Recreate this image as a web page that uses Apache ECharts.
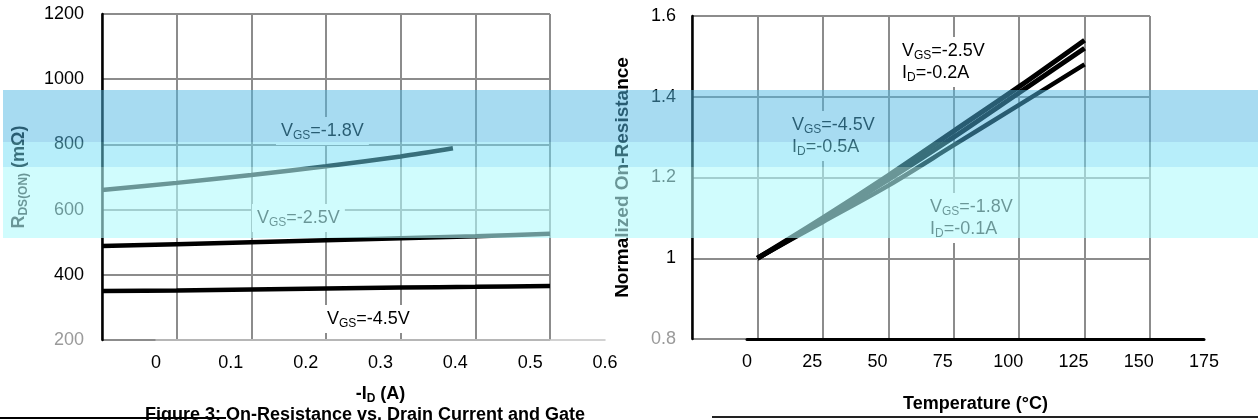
<!DOCTYPE html>
<html><head><meta charset="utf-8">
<script src="https://cdn.jsdelivr.net/npm/echarts@6/dist/echarts.min.js"></script>
<style>html,body{margin:0;padding:0;background:#fff}#c{width:1258px;height:420px}</style>
</head><body><div id="c"></div>
<script>
// ---- Figure 3 (left): R_DS(ON) vs -I_D ----
const currentA   = [0, 0.1, 0.2, 0.3, 0.4, 0.5, 0.6];
const rdsVgs45   = [350, 352, 355, 358, 361, 363, 366];
const rdsVgs25   = [488, 494, 500, 506, 512, 518, 526];
const current18  = [0, 0.1, 0.2, 0.3, 0.4, 0.47];
const rdsVgs18   = [660, 682, 706, 733, 763, 788];
const leftXTicks = [0, 0.1, 0.2, 0.3, 0.4, 0.5, 0.6];
const leftYTicks = [200, 400, 600, 800, 1000, 1200];
// ---- Right: normalized on-resistance vs temperature ----
const tempC      = [25, 50, 75, 100, 125, 150];
const normVgs25  = [1.0, 1.10, 1.205, 1.315, 1.425, 1.54];
const normVgs45  = [1.0, 1.095, 1.195, 1.30, 1.41, 1.52];
const normVgs18  = [1.0, 1.09, 1.18, 1.28, 1.38, 1.48];
const rightXTicks = [0, 25, 50, 75, 100, 125, 150, 175];
const rightYTicks = [0.8, 1.0, 1.2, 1.4, 1.6];

const FF = '"Liberation Sans", Arial, sans-serif';
const GRID = {color: '#8c8c8c', width: 2};
const pairs = (xs, ys) => xs.map((x, i) => [x, ys[i]]);
const step = a => +(a[1] - a[0]).toFixed(6);
const subRich = {
  n: {fontSize: 18, fontFamily: FF, color: '#000', lineHeight: 22},
  s: {fontSize: 12, fontFamily: FF, color: '#000', lineHeight: 12, verticalAlign: 'bottom'}
};
const boldRich = {
  n: {fontSize: 18, fontFamily: FF, fontWeight: 'bold', color: '#000', lineHeight: 22},
  s: {fontSize: 12, fontFamily: FF, fontWeight: 'bold', color: '#000', lineHeight: 12, verticalAlign: 'bottom'}
};
const hiddenX = (gi, t) => ({gridIndex: gi, type: 'value', min: t[0], max: t[t.length-1], interval: step(t),
  axisLine: {show: false}, axisTick: {show: false}, axisLabel: {show: false}, splitLine: {show: true, lineStyle: GRID}});
const hiddenY = (gi, t) => ({gridIndex: gi, type: 'value', min: t[0], max: t[t.length-1], interval: step(t), show: false});

const chart = echarts.init(document.getElementById('c'), null, {renderer: 'canvas'});
const lineS = (xi, yi, data, w) => ({type: 'line', xAxisIndex: xi, yAxisIndex: yi, data, smooth: 0.3,
  showSymbol: false, symbol: 'none', lineStyle: {color: '#000', width: w}, z: 5, silent: true});

const label = (x, y, text) => ({type: 'text', x, y, z: 50,
  style: {text, rich: subRich, backgroundColor: '#fff', padding: [3, 5], fill: '#000'}});

chart.setOption({
  animation: false,
  backgroundColor: '#fff',
  grid: [
    {left: 102, top: 14, width: 448, height: 326},
    {left: 156, top: 14, width: 449, height: 326},
    {left: 692, top: 16, width: 458, height: 323},
    {left: 747, top: 16, width: 457, height: 323}
  ],
  xAxis: [
    hiddenX(0, leftXTicks),
    {gridIndex: 1, type: 'value', min: leftXTicks[0], max: leftXTicks[leftXTicks.length-1], interval: step(leftXTicks),
      axisLine: {show: true, lineStyle: {color: '#c4c4c4', width: 1.5}}, axisTick: {show: false}, splitLine: {show: false},
      axisLabel: {fontSize: 18, fontFamily: FF, color: '#000', margin: 14},
      name: '{n|-I}{s|D}{n| (A)}', nameLocation: 'middle', nameGap: 43, nameTextStyle: {rich: boldRich}},
    hiddenX(2, rightXTicks),
    {gridIndex: 3, type: 'value', min: rightXTicks[0], max: rightXTicks[rightXTicks.length-1], interval: step(rightXTicks),
      axisLine: {show: true, lineStyle: {color: '#000', width: 3}}, axisTick: {show: false}, splitLine: {show: false},
      axisLabel: {fontSize: 18, fontFamily: FF, color: '#000', margin: 14},
      name: 'Temperature (°C)', nameLocation: 'middle', nameGap: 56,
      nameTextStyle: {fontSize: 18, fontFamily: FF, fontWeight: 'bold', color: '#000'}}
  ],
  yAxis: [
    {gridIndex: 0, type: 'value', min: leftYTicks[0], max: leftYTicks[leftYTicks.length-1], interval: step(leftYTicks),
      axisLine: {show: true, lineStyle: {color: '#000', width: 2.5}}, axisTick: {show: false},
      splitLine: {show: true, lineStyle: GRID},
      axisLabel: {fontSize: 18, fontFamily: FF, color: '#000', margin: 18,
        formatter: v => v === leftYTicks[0] ? '{g|' + v + '}' : String(v),
        rich: {g: {fontSize: 18, fontFamily: FF, color: '#9a9a9a'}}},
      name: '{n|R}{s|DS(ON)}{n| (mΩ)}', nameLocation: 'middle', nameRotate: 90, nameGap: 72,
      nameTextStyle: {rich: boldRich}},
    hiddenY(1, leftYTicks),
    {gridIndex: 2, type: 'value', min: rightYTicks[0], max: rightYTicks[rightYTicks.length-1], interval: step(rightYTicks),
      axisLine: {show: true, lineStyle: {color: '#000', width: 2.5}}, axisTick: {show: false},
      splitLine: {show: true, lineStyle: GRID},
      axisLabel: {fontSize: 18, fontFamily: FF, color: '#000', margin: 16,
        formatter: v => Math.abs(v - rightYTicks[0]) < 1e-6 ? '{g|' + v + '}' : String(+v.toFixed(2)),
        rich: {g: {fontSize: 18, fontFamily: FF, color: '#9a9a9a'}}},
      name: 'Normalized On-Resistance', nameLocation: 'middle', nameRotate: 90, nameGap: 60,
      nameTextStyle: {fontSize: 19, fontFamily: FF, fontWeight: 'bold', color: '#000'}},
    hiddenY(3, rightYTicks)
  ],
  series: [
    lineS(0, 0, pairs(currentA, rdsVgs45), 4.5),
    lineS(0, 0, pairs(currentA, rdsVgs25), 4.5),
    lineS(0, 0, pairs(current18, rdsVgs18), 4.5),
    lineS(2, 2, pairs(tempC, normVgs25), 5),
    lineS(2, 2, pairs(tempC, normVgs45), 5),
    lineS(2, 2, pairs(tempC, normVgs18), 4.5)
  ],
  graphic: [
    label(276, 117, '{n|V}{s|GS}{n|=-1.8V}'),
    label(252, 204, '{n|V}{s|GS}{n|=-2.5V}'),
    label(322, 305, '{n|V}{s|GS}{n|=-4.5V}'),
    label(897, 37, '{n|V}{s|GS}{n|=-2.5V}\n{n|I}{s|D}{n|=-0.2A}'),
    label(787, 111, '{n|V}{s|GS}{n|=-4.5V}\n{n|I}{s|D}{n|=-0.5A}'),
    label(925, 193, '{n|V}{s|GS}{n|=-1.8V}\n{n|I}{s|D}{n|=-0.1A}'),
    {type: 'text', x: 145, y: 406, z: 50,
      style: {text: 'Figure 3: On-Resistance vs. Drain Current and Gate', fill: '#000',
        font: 'bold 18px "Liberation Sans", Arial, sans-serif'}},
    {type: 'line', z: 50, shape: {x1: 0, y1: 418, x2: 226, y2: 418}, style: {stroke: '#000', lineWidth: 2}},
    {type: 'line', z: 50, shape: {x1: 712, y1: 417, x2: 1258, y2: 417}, style: {stroke: '#222', lineWidth: 2}},
    {type: 'rect', z: 100, silent: true, shape: {x: 3, y: 90, width: 1255, height: 52}, style: {fill: 'rgba(79,183,227,0.5)'}},
    {type: 'rect', z: 100, silent: true, shape: {x: 3, y: 142, width: 1255, height: 25}, style: {fill: 'rgba(111,221,245,0.5)'}},
    {type: 'rect', z: 100, silent: true, shape: {x: 3, y: 167, width: 1255, height: 71}, style: {fill: 'rgba(177,250,252,0.6)'}}
  ]
});
</script></body></html>
